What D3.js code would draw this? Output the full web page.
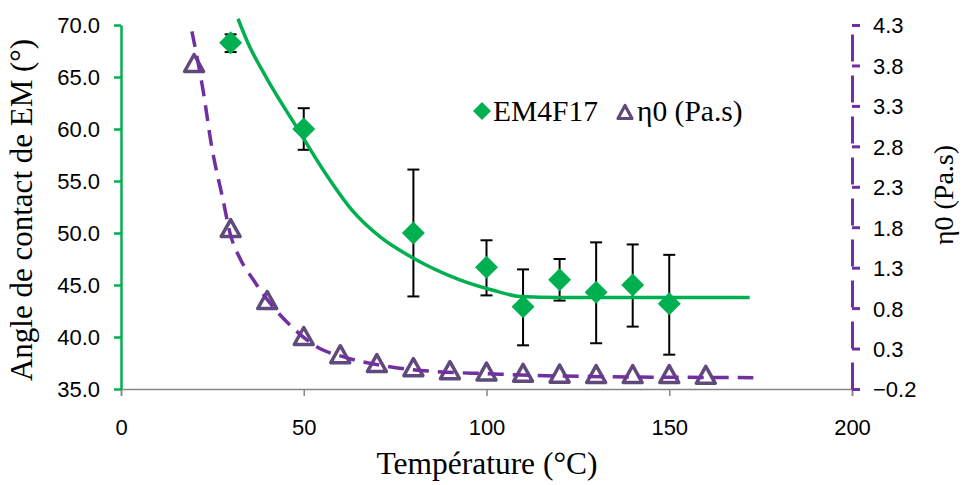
<!DOCTYPE html>
<html><head><meta charset="utf-8">
<script src="https://cdn.jsdelivr.net/npm/d3@7"></script>
<style>
html,body{margin:0;padding:0;background:#fff;}
svg{display:block;}
.tick-label{font-family:"Liberation Sans",Arial,sans-serif;font-size:22px;fill:#000;}
.title{font-family:"Liberation Serif","Times New Roman",serif;fill:#000;}
</style>
</head><body>
<svg id="chart" width="963" height="485"></svg>
<script>
// ---- data ----
const emTemps   = [30, 50, 80, 100, 110, 120, 130, 140, 150];
const emAngle   = [68.3, 60.0, 50.0, 46.7, 42.9, 45.5, 44.3, 45.0, 43.2];
const emErrHigh = [69.1, 62.0, 56.1, 49.3, 46.5, 47.5, 49.1, 48.9, 47.9];
const emErrLow  = [67.4, 58.0, 43.9, 44.0, 39.2, 43.5, 39.4, 41.0, 38.3];

const etaTemps  = [20, 30, 40, 50, 60, 70, 80, 90, 100, 110, 120, 130, 140, 150, 160];
const etaValues = [3.83, 1.79, 0.90, 0.455, 0.23, 0.12, 0.07, 0.033, 0.016, 0.0, -0.01, -0.015, -0.015, -0.015, -0.025];

// trend lines
const emTrendT  = [32, 34.7, 40, 48.2, 56, 63.2, 71, 79.9, 92.7, 101.8, 109.2, 120, 140, 172];
const emTrendV  = [70.6, 68.3, 64.8, 60.1, 55.7, 52.2, 49.6, 47.6, 45.5, 44.5, 43.9, 43.8, 43.8, 43.8];
const etaTrendT = [19.4, 22.5, 24.8, 28.0, 29.8, 32.5, 36.2, 40.8, 45.8, 54.4, 60.7, 72.7, 86.4, 100, 120, 173];
const etaTrendV = [4.22, 3.48, 2.80, 2.12, 1.73, 1.42, 1.15, 0.86, 0.61, 0.30, 0.20, 0.08, 0.015, -0.01, -0.04, -0.06];

const xTicks = [0, 50, 100, 150, 200];
const yLeftTicks = [35, 40, 45, 50, 55, 60, 65, 70];
const yRightTicks = [-0.2, 0.3, 0.8, 1.3, 1.8, 2.3, 2.8, 3.3, 3.8, 4.3];

const labels = {
  x: "Température (°C)",
  yLeft: "Angle de contact de EM (°)",
  yRight: "η0 (Pa.s)",
  s1: "EM4F17",
  s2: "η0 (Pa.s)"
};

// ---- layout ----
const GREEN = "#00B050", PURPLE = "#7030A0", TRI = "#604A7B", GRAY = "#868686";
const svg = d3.select("#chart");
const x = d3.scaleLinear().domain([0, 200]).range([121, 852]);
const yL = d3.scaleLinear().domain([35, 70]).range([389, 25]);
const yR = d3.scaleLinear().domain([-0.2, 4.3]).range([389, 25]);

// x axis
const xAxis = svg.append("g").attr("transform", "translate(0,389)")
  .call(d3.axisBottom(x).tickValues(xTicks).tickSize(7).tickPadding(10).tickFormat(d3.format("d")));
xAxis.select(".domain").attr("stroke", GRAY).attr("stroke-width", 1.5);
xAxis.selectAll(".tick line").attr("stroke", GRAY).attr("stroke-width", 1.5);
xAxis.selectAll(".tick text").attr("class", "tick-label").attr("dy", null).attr("y", 46);

// left axis
const lAxis = svg.append("g").attr("transform", "translate(121,0)")
  .call(d3.axisLeft(yL).tickValues(yLeftTicks).tickSize(7).tickSizeOuter(0).tickPadding(14).tickFormat(d3.format(".1f")));
lAxis.select(".domain").attr("stroke", GREEN).attr("stroke-width", 2.5);
lAxis.selectAll(".tick line").attr("stroke", GREEN).attr("stroke-width", 2.5);
lAxis.selectAll(".tick text").attr("class", "tick-label").attr("dy", "0.36em");

// right axis
const rAxis = svg.append("g").attr("transform", "translate(852,0)")
  .call(d3.axisRight(yR).tickValues(yRightTicks).tickSize(8).tickSizeOuter(0).tickPadding(13).tickFormat(d3.format(".1f")));
rAxis.select(".domain").attr("stroke", PURPLE).attr("stroke-width", 3).attr("stroke-dasharray", "27,14");
rAxis.selectAll(".tick line").attr("stroke", PURPLE).attr("stroke-width", 3);
rAxis.selectAll(".tick text").attr("class", "tick-label").attr("dy", "0.36em");

// error bars
const eb = svg.append("g").attr("stroke", "#000").attr("stroke-width", 2);
emTemps.forEach((t, i) => {
  const cx = x(t);
  eb.append("line").attr("x1", cx).attr("x2", cx).attr("y1", yL(emErrHigh[i])).attr("y2", yL(emErrLow[i]));
  eb.append("line").attr("x1", cx - 6).attr("x2", cx + 6).attr("y1", yL(emErrHigh[i])).attr("y2", yL(emErrHigh[i]));
  eb.append("line").attr("x1", cx - 6).attr("x2", cx + 6).attr("y1", yL(emErrLow[i])).attr("y2", yL(emErrLow[i]));
});

// markers
const diamond = (cx, cy, r) => `M${cx},${cy - r}L${cx + r},${cy}L${cx},${cy + r}L${cx - r},${cy}Z`;
const triangle = (cx, cy, w, h) => `M${cx},${cy - h / 2}L${cx + w / 2},${cy + h / 2}L${cx - w / 2},${cy + h / 2}Z`;

svg.append("g").selectAll("path").data(emTemps).join("path")
  .attr("d", (t, i) => diamond(x(t), yL(emAngle[i]), 11.5))
  .attr("fill", GREEN);

svg.append("g").selectAll("path").data(etaTemps).join("path")
  .attr("d", (t, i) => triangle(x(t), yR(etaValues[i]), 19, 17))
  .attr("fill", "#fff").attr("stroke", TRI).attr("stroke-width", 3.5).attr("stroke-linejoin", "round");

// trend lines
const emLine = d3.line().x((t) => x(t)).y((t, i) => yL(emTrendV[i])).curve(d3.curveMonotoneX);
svg.append("path").attr("d", emLine(emTrendT)).attr("fill", "none").attr("stroke", GREEN).attr("stroke-width", 3.5);
const etaLine = d3.line().x((t) => x(t)).y((t, i) => yR(etaTrendV[i])).curve(d3.curveMonotoneX);
svg.append("path").attr("d", etaLine(etaTrendT)).attr("fill", "none").attr("stroke", PURPLE)
  .attr("stroke-width", 3.5).attr("stroke-dasharray", "16,9");

// legend
svg.append("path").attr("d", diamond(482, 111, 9)).attr("fill", GREEN);
svg.append("text").attr("class", "title").attr("x", 493).attr("y", 121).attr("font-size", 29.5).text(labels.s1);
svg.append("path").attr("d", triangle(625, 112, 14, 13)).attr("fill", "#fff").attr("stroke", TRI).attr("stroke-width", 3.2).attr("stroke-linejoin", "round");
svg.append("text").attr("class", "title").attr("x", 637).attr("y", 121).attr("font-size", 29.5).text(labels.s2);

// titles
svg.append("text").attr("class", "title").attr("x", 487).attr("y", 474).attr("text-anchor", "middle")
  .attr("font-size", 31.5).text(labels.x);
svg.append("text").attr("class", "title").attr("transform", "translate(32,210) rotate(-90)").attr("text-anchor", "middle")
  .attr("font-size", 31).text(labels.yLeft);
svg.append("text").attr("class", "title").attr("transform", "translate(953,195) rotate(-90)").attr("text-anchor", "middle")
  .attr("font-size", 28).text(labels.yRight);
</script>
</body></html>
